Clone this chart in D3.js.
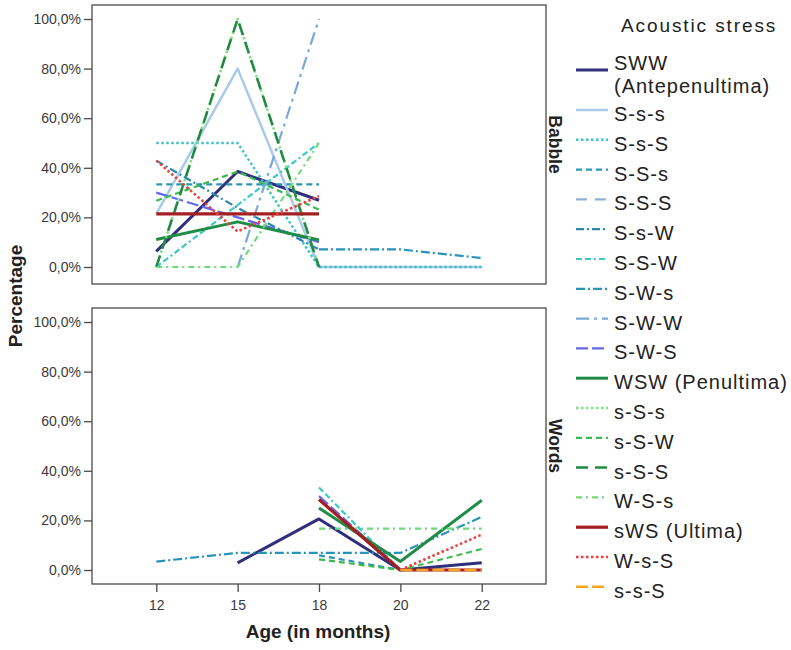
<!DOCTYPE html>
<html>
<head>
<meta charset="utf-8">
<script src="https://cdn.jsdelivr.net/npm/d3@7/dist/d3.min.js"></script>
<style>
  html, body { margin: 0; padding: 0; background: #fff; }
  svg { display: block; font-family: "Liberation Sans", Arial, sans-serif; }
</style>
</head>
<body>
<svg id="chart" width="791" height="650"></svg>
<script>
// Age categories on the x axis
const ages = ["12", "15", "18", "20", "22"];

// Stress patterns, in legend order
const seriesNames = [
  "SWW\n(Antepenultima)", "S-s-s", "S-s-S", "S-S-s", "S-S-S", "S-s-W", "S-S-W",
  "S-W-s", "S-W-W", "S-W-S", "WSW (Penultima)", "s-S-s", "s-S-W", "s-S-S",
  "W-S-s", "sWS (Ultima)", "W-s-S", "s-s-S"
];

// Percentages per age (12, 15, 18, 20, 22) for the Babble panel
const babbleValues = [
  [6.3, 38.5, 26.9, null, null],
  [21.4, 80.0, 0.0, 0.0, 0.0],
  [50.0, 50.0, 0.0, 0.0, 0.0],
  [33.3, 33.3, 33.3, null, null],
  [null, null, null, null, null],
  [42.9, 23.8, 7.1, null, null],
  [0.0, 25.0, 50.0, null, null],
  [null, null, 7.1, 7.1, 3.6],
  [null, 0.0, 100.0, null, null],
  [30.0, 20.0, 10.0, null, null],
  [11.1, 18.2, 10.9, null, null],
  [0.0, 100.0, 0.0, null, null],
  [26.7, 38.5, 23.1, null, null],
  [0.0, 100.0, 0.0, null, null],
  [0.0, 0.0, 50.0, null, null],
  [21.4, 21.4, 21.4, null, null],
  [42.9, 14.3, 28.6, null, null],
  [null, null, null, null, null]
];

// Percentages per age (12, 15, 18, 20, 22) for the Words panel
const wordsValues = [
  [null, 2.9, 20.6, 0.0, 2.9],
  [null, null, null, null, null],
  [null, null, null, null, null],
  [null, null, 5.9, 0.0, 0.0],
  [null, null, null, 0.0, 0.0],
  [null, null, null, null, null],
  [null, null, 33.3, 0.0, 0.0],
  [3.4, 6.9, 6.9, 6.9, 21.4],
  [null, null, null, null, null],
  [null, null, 29.8, 0.0, 0.0],
  [null, null, 25.0, 3.4, 28.1],
  [null, null, null, null, null],
  [null, null, 4.3, 0.0, 8.5],
  [null, null, null, null, null],
  [null, null, 16.7, 16.7, 16.7],
  [null, null, 28.4, 0.0, 0.0],
  [null, null, null, 0.0, 14.3],
  [null, null, null, 0.0, 0.0]
];

const yTickValues = [0, 20, 40, 60, 80, 100];
const panelNames = ["Babble", "Words"];

// Line styles per series
const seriesColors = [
  "#2f2f7c", "#a9cbea", "#3fc3cb", "#2b95b6", "#90b2d8", "#2c88ad", "#3cc7c9",
  "#2a93ba", "#7aa8d8", "#6767ee", "#1f8d47", "#82e07f", "#3cba4e", "#1f8a40",
  "#6fd97a", "#a41f22", "#ef3d3d", "#f5a425"
];
const seriesDashes = [
  null, null, "2.5,2.5", "6,4", "11,8", "8,3,2,3", "6,3,6,3,2,3",
  "9,3,2,3", "13,5,3,5", "12,4", null, "2.5,2.5", "6,4", "12,7",
  "6,4,2,4", null, "2.5,2.5", "12,4"
];
const seriesWidths = [3, 2.5, 2.5, 2.2, 2.2, 2.2, 2.2, 2.2, 2.2, 2.2, 3, 2.5, 2.2, 2.5, 2.2, 3.2, 2.5, 2.5];

const svg = d3.select("#chart");

const left = 92, right = 546;
const x = d3.scalePoint().domain(ages).range([left, right]).padding(0.79);

const panels = [
  { name: panelNames[0], values: babbleValues, top: 5, bottom: 284, y0: 267, y100: 19 },
  { name: panelNames[1], values: wordsValues, top: 308, bottom: 584, y0: 570, y100: 322 }
];

const fmt = d => d.toFixed(1).replace(".", ",") + "%";

panels.forEach((p, pi) => {
  const y = d3.scaleLinear().domain([0, 100]).range([p.y0, p.y100]);

  // frame
  svg.append("rect")
    .attr("x", left).attr("y", p.top)
    .attr("width", right - left).attr("height", p.bottom - p.top)
    .attr("fill", "none").attr("stroke", "#4a4a4a").attr("stroke-width", 1.3);

  // y axis
  const ya = svg.append("g")
    .attr("transform", `translate(${left},0)`)
    .call(d3.axisLeft(y).tickValues(yTickValues).tickFormat(fmt).tickSize(8).tickPadding(3));
  ya.select(".domain").remove();
  ya.selectAll(".tick line").attr("stroke", "#4a4a4a").attr("stroke-width", 1.3);
  ya.selectAll(".tick text").attr("font-size", 14).attr("fill", "#3a3a3a")
    .attr("font-family", "Liberation Sans, Arial, sans-serif");

  // series lines
  const line = d3.line()
    .defined(d => d.v !== null)
    .x(d => x(d.age))
    .y(d => y(d.v));

  p.values.forEach((vals, si) => {
    const pts = ages.map((a, i) => ({ age: a, v: vals[i] }));
    if (pts.every(d => d.v === null)) return;
    svg.append("path")
      .datum(pts)
      .attr("d", line)
      .attr("fill", "none")
      .attr("stroke", seriesColors[si])
      .attr("stroke-width", seriesWidths[si])
      .attr("stroke-dasharray", seriesDashes[si])
      .attr("stroke-linejoin", "round");
  });

  // panel label
  svg.append("text")
    .attr("transform", `translate(549,${(p.top + p.bottom) / 2}) rotate(90)`)
    .attr("text-anchor", "middle")
    .attr("font-size", 17.5).attr("font-weight", "bold").attr("fill", "#222")
    .text(p.name);
});

// x axis on the lower panel
const xa = svg.append("g")
  .attr("transform", `translate(0,${panels[1].bottom})`)
  .call(d3.axisBottom(x).tickSize(8).tickPadding(8));
xa.select(".domain").remove();
xa.selectAll(".tick line").attr("stroke", "#4a4a4a").attr("stroke-width", 1.3);
xa.selectAll(".tick text").attr("font-size", 14).attr("fill", "#3a3a3a")
  .attr("font-family", "Liberation Sans, Arial, sans-serif");

// axis titles
svg.append("text")
  .attr("x", 318).attr("y", 638)
  .attr("text-anchor", "middle")
  .attr("font-size", 19).attr("font-weight", "bold").attr("fill", "#222")
  .text("Age (in months)");

svg.append("text")
  .attr("transform", "translate(22,296) rotate(-90)")
  .attr("text-anchor", "middle")
  .attr("font-size", 19).attr("font-weight", "bold").attr("fill", "#222")
  .text("Percentage");

// legend
const legend = svg.append("g");
legend.append("text")
  .attr("x", 621).attr("y", 32)
  .attr("font-size", 19).attr("letter-spacing", 1.9).attr("fill", "#222")
  .text("Acoustic stress");

let ly = 70;
seriesNames.forEach((name, si) => {
  const lines = name.split("\n");
  const g = legend.append("g");
  g.append("line")
    .attr("x1", 576).attr("x2", 608)
    .attr("y1", ly).attr("y2", ly)
    .attr("stroke", seriesColors[si])
    .attr("stroke-width", seriesWidths[si])
    .attr("stroke-dasharray", seriesDashes[si]);
  const t = g.append("text")
    .attr("x", 614)
    .attr("font-size", 20).attr("letter-spacing", 1).attr("fill", "#222");
  if (lines.length > 1) {
    lines.forEach((ln, li) => {
      t.append("tspan").attr("x", 614).attr("y", ly + li * 22.5).text(ln);
    });
    ly += 40;
  } else {
    t.attr("y", ly + 11).text(name);
    ly += 29.8;
  }
});
</script>
</body>
</html>
